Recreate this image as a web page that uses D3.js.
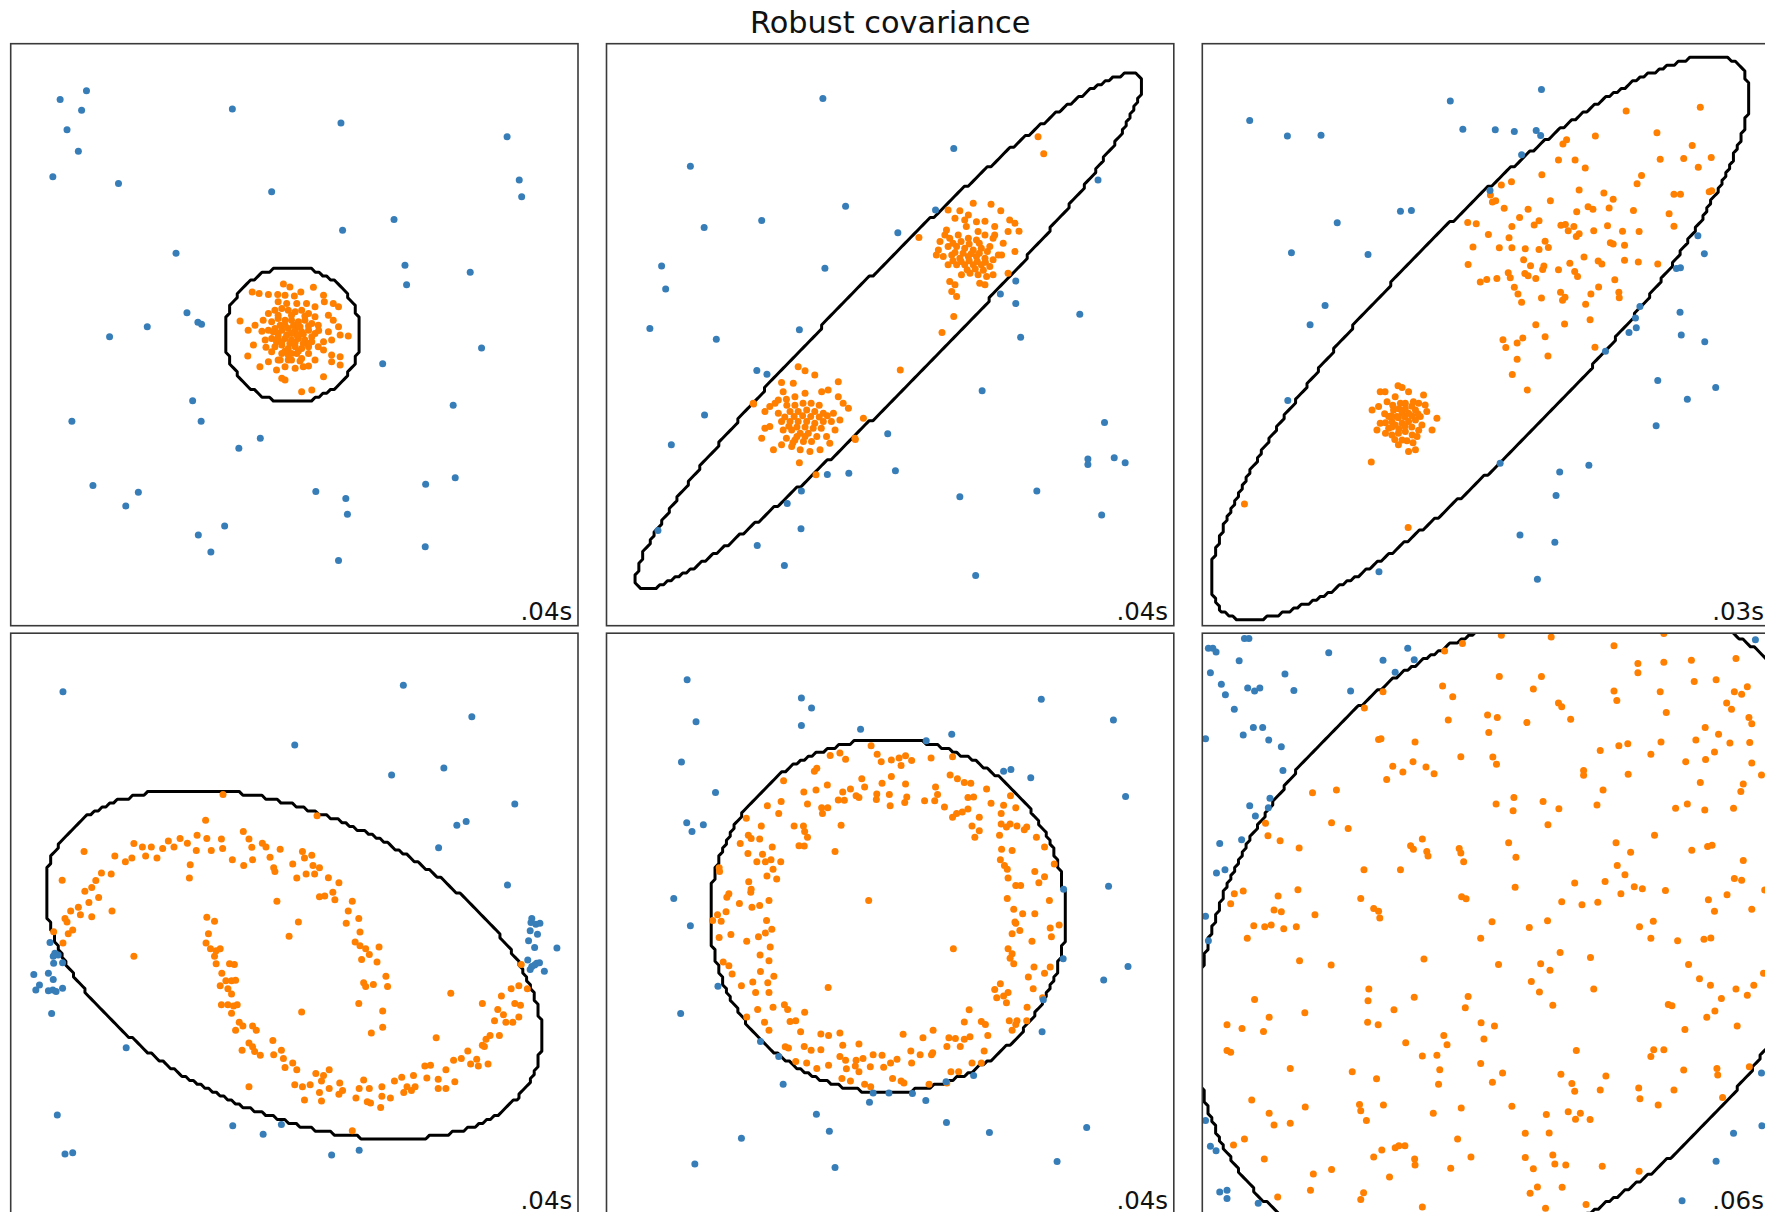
<!DOCTYPE html>
<html>
<head>
<meta charset="utf-8">
<script src="https://cdn.jsdelivr.net/npm/d3@7"></script>
<style>
  html, body { margin: 0; padding: 0; background: #fff; }
  svg { display: block; }
  text { font-family: "DejaVu Sans", sans-serif; fill: #111; }
</style>
</head>
<body>
<script>
// ---- chart text ----
const chartTitle = "Robust covariance";
const fitTimes = [".04s", ".04s", ".03s", ".04s", ".04s", ".06s"];

// ---- fitted boundary per dataset: centre, semi-axes, rotation (deg) ----
const boundaryCentre = [[-0.05, 0.0], [-0.03, 0.09], [-0.145, -0.075], [-0.025, -0.965], [-0.06, 0.21], [0.75, -0.15]];
const boundaryAxes = [[1.68, 1.63], [8.7, 1.25], [9.15, 2.49], [6.49, 3.62], [4.39, 4.25], [9.0, 6.6]];
const boundaryAngle = [0, 44.8, 45.7, -23.4, 0, 45];

// ---- dataset 1: single blob ----
const blobInliers = [
[-0.27,1.22],[-0.11,1.15],[0.47,1.14],[-1.04,1.03],[-0.87,0.99],[-0.64,0.97],[-0.41,0.97],[-0.23,0.95],[0.00,0.93],[0.16,1.03],
[0.72,0.95],[0.74,0.79],[0.96,0.75],[1.09,0.67],[-0.40,0.79],[-0.19,0.75],[0.06,0.75],[0.30,0.75],[0.51,0.67],[-1.34,0.33],
[-1.14,0.11],[-0.97,0.23],[-0.77,0.35],[0.84,0.47],[0.96,0.35],[1.09,0.19],[1.13,-0.01],[1.33,-0.03],[0.84,0.07],[0.72,-0.17],
[0.92,-0.13],[-1.15,-0.51],[-1.01,-0.25],[-0.85,-0.77],[-0.64,-0.65],[-0.44,-0.85],[-0.31,-1.05],[-0.23,-1.09],[0.02,-0.81],[0.22,-0.77],
[0.35,-0.75],[0.51,-0.61],[0.72,-0.37],[0.92,-0.49],[1.13,-0.53],[0.92,-0.65],[1.13,-0.73],[0.72,-1.01],[0.18,-1.37],[0.43,-1.33],
[-0.72,-0.13],[-0.56,-0.41],[-0.40,-0.61],[-0.15,-0.61],[0.18,-0.57],[0.35,-0.45],
[-0.64,0.51],[-0.48,0.59],[-0.31,0.63],[-0.15,0.59],[0.02,0.55],[0.18,0.59],[0.35,0.51],[0.51,0.43],[-0.56,0.31],[-0.40,0.39],
[-0.23,0.35],[-0.07,0.35],[0.10,0.31],[0.26,0.35],[0.43,0.27],[0.59,0.23],[-0.64,0.11],[-0.48,0.15],[-0.31,0.11],[-0.15,0.15],
[0.02,0.11],[0.18,0.07],[0.35,0.11],[0.51,0.03],[-0.56,-0.09],[-0.40,-0.05],[-0.23,-0.09],[-0.07,-0.13],[0.10,-0.09],[0.26,-0.13],
[0.43,-0.17],[-0.48,-0.29],[-0.31,-0.25],[-0.15,-0.33],[0.02,-0.29],[0.18,-0.33],[0.35,-0.29],[-0.31,-0.45],[-0.15,-0.49],[0.06,-0.45],
[-0.23,-0.77],[-0.07,-0.61],[-0.52,0.07],[-0.35,0.23],[-0.02,0.23],[0.14,0.19],[-0.19,-0.01],[0.06,-0.01],[0.22,-0.21],[-0.11,-0.21],
[-0.44,-0.17],
[-0.40,0.47],[-0.07,0.47],[0.26,0.45],[-0.23,0.23],[0.10,0.21],[0.35,0.21],[-0.40,0.03],[-0.07,0.03],[0.22,0.01],[0.43,-0.05],
[-0.31,-0.17],[0.02,-0.19],[0.35,-0.21],[-0.23,-0.39],[0.10,-0.39],[-0.07,-0.45],[0.14,-0.63],[-0.35,-0.61],[0.59,-0.29],[0.60,0.10],
[-0.80,0.08],[-0.70,-0.30]
];
const blobOutliers = [
[-5.78,5.66],[-5.13,5.87],[-5.25,5.40],[-5.61,4.93],[-5.33,4.41],[-5.96,3.80],[-4.34,3.64],[-1.53,5.43],[1.15,5.09],[-0.56,3.44],
[5.25,4.76],[5.55,3.72],[5.61,3.32],[2.46,2.77],[1.19,2.51],[-2.92,1.96],[2.73,1.67],[2.77,1.20],[4.34,1.50],[-2.65,0.53],
[-2.38,0.30],[-2.29,0.25],[-3.63,0.19],[-4.56,-0.05],[4.62,-0.32],[2.18,-0.70],[-2.51,-1.59],[-5.49,-2.08],[-2.30,-2.08],[-0.84,-2.49],
[-1.37,-2.73],[3.92,-1.70],[-4.97,-3.63],[-3.85,-3.79],[-4.16,-4.12],[0.53,-3.77],[1.27,-3.94],[1.31,-4.32],[3.24,-3.60],[3.97,-3.44],
[-1.72,-4.60],[-2.37,-4.82],[-2.06,-5.23],[1.09,-5.43],[3.23,-5.10]
];

// ---- dataset 2: two equal blobs ----
const twoBlobInliers = [
[0.71,2.34],[1.43,3.00],[1.72,2.98],[2.05,3.16],[2.49,3.14],[2.73,2.98],[2.95,2.76],[3.08,2.68],[3.18,2.49],[2.91,2.48],
[2.79,2.20],[3.08,2.00],[1.60,2.80],[1.93,2.88],[2.13,2.72],[2.34,2.73],[2.58,2.60],[2.17,2.48],[1.88,2.60],[1.39,2.52],
[1.68,2.40],[1.47,2.32],[1.23,2.24],[1.93,2.32],[2.13,2.28],[2.34,2.40],[2.58,2.40],[1.19,2.04],[1.43,2.12],[1.64,2.12],
[1.84,2.08],[2.05,2.04],[2.25,2.08],[2.46,2.12],[2.67,1.92],[1.31,1.88],[1.52,1.92],[1.72,1.84],[1.93,1.88],[2.13,1.88],
[2.34,1.84],[2.54,1.80],[2.75,1.92],[1.43,1.68],[1.64,1.68],[1.84,1.68],[2.05,1.68],[2.25,1.68],[2.46,1.64],[1.76,1.44],
[1.97,1.48],[2.17,1.44],[2.38,1.40],[2.54,1.44],[1.47,1.28],[1.60,1.20],[1.52,1.04],[1.64,0.92],[2.21,1.24],[2.34,1.20],
[2.91,1.48],[2.54,2.32],[1.14,1.92],[1.35,2.40],[1.84,2.76],
[1.55,2.20],[1.75,2.24],[1.95,2.18],[2.20,2.20],[2.40,2.00],[1.60,1.98],[1.80,1.96],[2.00,1.95],[2.20,1.96],[1.55,1.78],
[1.75,1.76],[1.95,1.78],[2.15,1.76],[2.35,1.74],[1.90,1.56],[2.10,1.58],[2.30,1.55],
[3.65,4.76],[3.79,4.35],[1.57,0.44],[1.28,0.05],[0.25,-0.85],[-0.86,-2.52],[-1.83,-3.37],[-3.37,-1.67],
[-2.27,-0.77],[-2.10,-0.87],[-1.86,-0.97],[-2.68,-1.15],[-2.39,-1.17],[-1.28,-1.13],[-3.38,-1.65],[-3.09,-1.85],[-2.97,-1.73],[-2.84,-1.65],
[-2.76,-1.57],[-2.64,-1.37],[-2.56,-1.55],[-2.35,-1.49],[-2.10,-1.41],[-1.69,-1.37],[-1.53,-1.33],[-1.28,-1.49],[-1.16,-1.65],[-1.03,-1.77],
[-1.24,-2.05],[-1.40,-1.89],[-1.65,-1.89],[-1.86,-1.85],[-2.06,-1.81],[-2.27,-1.85],[-2.47,-1.85],[-2.76,-1.89],[-3.09,-2.25],[-2.97,-2.21],
[-2.68,-2.09],[-2.47,-2.09],[-2.27,-2.09],[-2.06,-2.09],[-1.86,-2.13],[-1.65,-2.09],[-1.45,-2.09],[-1.36,-2.29],[-1.57,-2.45],[-1.81,-2.45],
[-2.02,-2.37],[-2.22,-2.37],[-2.43,-2.29],[-2.64,-2.29],[-2.56,-2.49],[-2.35,-2.53],[-2.14,-2.57],[-1.94,-2.57],[-3.17,-2.49],[-2.88,-2.77],
[-2.68,-2.65],[-2.43,-2.69],[-2.22,-2.77],[-1.98,-2.81],[-1.73,-2.77],[-1.49,-2.61],[-2.24,-3.08],[-0.66,-2.01],[-0.87,-2.49],
[-2.55,-1.70],[-2.35,-1.70],[-2.15,-1.65],[-1.95,-1.65],[-1.75,-1.70],[-2.60,-1.98],[-2.37,-1.97],[-2.16,-1.95],[-1.96,-1.97],[-1.75,-1.98],
[-1.55,-1.95],[-2.50,-2.20],[-2.30,-2.22],[-2.10,-2.22],[-1.90,-2.25],[-1.70,-2.25],[-2.30,-2.45],[-2.10,-2.45],[-2.40,-2.60]
];
const twoBlobOutliers = [
[-1.66,5.68],[1.57,4.48],[-4.93,4.05],[5.13,3.72],[-1.10,3.09],[-3.17,2.75],[-4.59,2.58],[0.19,2.45],[1.12,3.00],[-5.64,1.65],
[-1.61,1.60],[-5.54,1.10],[3.10,1.29],[2.72,0.98],[3.10,0.75],[4.68,0.49],[3.22,-0.06],[-5.93,0.15],[-4.29,-0.11],[-2.24,0.12],
[-3.29,-0.86],[-3.04,-0.95],[2.27,-1.35],[-4.58,-1.93],[5.29,-2.11],[-5.40,-2.65],[-0.06,-2.38],[4.88,-2.99],[4.88,-3.12],[5.53,-2.96],
[5.80,-3.08],[-1.55,-3.36],[-1.02,-3.33],[0.13,-3.27],[-2.19,-3.76],[-2.54,-4.06],[1.72,-3.90],[3.62,-3.76],[5.22,-4.34],[-2.20,-4.67],
[-3.28,-5.07],[-2.61,-5.55],[2.11,-5.79],[-5.73,-4.71]
];

// ---- dataset 3: wide blob + tight blob ----
const unevenInliers = [
[3.46,5.38],[5.29,5.47],[2.70,4.78],[4.22,4.86],[1.99,4.69],[1.90,4.59],[5.09,4.55],[1.79,4.20],[2.20,4.20],[4.30,4.22],
[4.88,4.24],[5.56,4.26],[5.24,4.03],[2.45,4.01],[1.38,3.85],[3.84,3.83],[0.63,3.68],[0.38,3.60],[3.73,3.63],[2.30,3.48],
[2.91,3.41],[3.14,3.26],[4.64,3.38],[4.80,3.38],[5.57,3.46],[0.11,3.36],[0.24,3.22],[0.16,3.19],[0.45,3.04],[1.04,3.02],
[1.59,3.22],[2.24,2.96],[2.52,3.08],[2.64,3.02],[3.04,3.05],[3.64,2.99],[4.52,2.91],[-0.45,2.70],[-0.24,2.67],[0.83,2.82],
[0.64,2.60],[1.19,2.64],[1.31,2.74],[1.85,2.63],[1.96,2.65],[2.17,2.60],[2.03,2.50],[2.30,2.43],[2.23,2.36],[2.66,2.50],
[3.00,2.62],[3.37,2.49],[3.78,2.48],[4.64,2.61],[0.06,2.41],[0.57,2.33],[-0.32,2.11],[0.33,2.09],[0.64,2.09],[0.97,2.07],
[1.31,2.05],[1.46,2.25],[1.54,2.10],[3.07,2.21],[3.14,2.18],[3.42,2.15],[-0.44,1.69],[0.93,1.80],[1.10,1.66],[1.43,1.65],
[1.40,1.57],[2.07,1.72],[2.42,1.87],[2.77,1.77],[2.86,1.70],[3.42,1.79],[3.76,1.75],[4.24,1.70],[-0.14,1.27],[0.02,1.33],
[0.27,1.35],[0.55,1.49],[0.60,1.37],[0.96,1.47],[1.04,1.42],[1.23,1.35],[1.79,1.56],[2.19,1.52],[2.26,1.40],[3.18,1.32],
[0.70,1.14],[0.79,0.98],[0.88,0.78],[1.37,0.88],[1.84,1.02],[1.95,0.90],[1.89,0.83],[2.59,0.98],[2.78,1.15],[3.28,1.02],
[3.29,0.89],[2.46,0.73],[1.23,0.24],[1.94,0.26],[2.57,0.36],[0.42,-0.12],[0.91,-0.08],[0.77,-0.20],[0.49,-0.31],[1.46,-0.05],
[1.53,-0.51],[0.77,-0.59],[0.65,-0.96],[1.02,-1.33],[2.69,-0.30],[5.51,3.44],[-5.96,-4.07],[-2.83,-3.06],[-1.92,-4.64],
[-2.61,-1.37],[-2.49,-1.37],[-2.17,-1.23],[-2.07,-1.27],[-1.91,-1.37],[-1.54,-1.45],[-2.81,-1.81],[-2.65,-1.73],[-2.44,-1.61],[-2.24,-1.49],
[-2.11,-1.65],[-1.99,-1.65],[-1.79,-1.61],[-1.66,-1.65],[-1.50,-1.69],[-1.46,-1.85],[-1.21,-2.01],[-1.33,-2.29],[-2.61,-2.13],[-2.69,-2.29],
[-2.48,-2.37],[-2.40,-2.25],[-2.32,-2.09],[-2.20,-1.97],[-2.07,-1.89],[-1.91,-1.89],[-1.74,-1.81],[-1.62,-1.97],[-2.28,-1.81],[-2.40,-1.97],
[-2.24,-2.17],[-2.07,-2.13],[-1.91,-2.09],[-1.74,-2.05],[-1.58,-2.17],[-2.32,-2.41],[-2.16,-2.37],[-1.99,-2.33],[-1.82,-2.41],[-1.70,-2.45],
[-2.16,-2.65],[-1.91,-2.81],[-1.74,-2.77],[-2.07,-2.53],
[-2.30,-1.70],[-2.15,-1.78],[-1.99,-1.78],[-1.83,-1.72],[-2.50,-1.90],[-2.33,-1.95],[-2.16,-2.00],[-2.00,-1.98],[-1.83,-1.95],[-1.68,-1.90],
[-2.48,-2.12],[-2.32,-2.22],[-2.15,-2.27],[-2.00,-2.20],[-1.83,-2.22],[-1.66,-2.30],[-2.25,-2.52],[-1.95,-2.55],[-1.80,-2.60]
];
const unevenOutliers = [
[-5.83,5.15],[-4.90,4.78],[-4.07,4.80],[-0.88,5.62],[1.37,5.90],[-0.57,4.94],[0.23,4.93],[0.70,4.89],[1.24,4.91],[1.35,4.79],
[0.88,4.33],[0.10,3.47],[-2.11,2.97],[-1.84,2.99],[-3.67,2.69],[-4.80,1.97],[-2.91,1.93],[-3.97,0.70],[-4.34,0.24],[5.23,2.38],
[5.39,1.95],[4.70,1.59],[4.80,1.61],[3.80,0.68],[3.69,0.40],[4.79,0.54],[3.71,0.17],[3.53,0.05],[4.82,-0.01],[5.40,-0.17],
[2.95,-0.40],[4.24,-1.10],[5.67,-1.27],[4.97,-1.55],[4.20,-2.19],[-4.89,-1.58],[0.35,-3.09],[1.82,-3.30],[2.54,-3.14],[1.73,-3.87],
[0.84,-4.82],[1.70,-4.99],[-2.64,-5.70],[1.27,-5.88]
];

// ---- dataset 4: two moons ----
const moonInliers = [
[-1.76,3.12],[-2.19,2.50],[0.56,2.61],[-5.19,1.75],[-5.73,1.06],[-3.96,1.94],[-3.75,1.86],[-3.53,1.86],[-3.39,1.59],[-3.11,2.00],
[-2.82,2.06],[-2.64,1.95],[-2.40,2.14],[-2.16,2.06],[-1.80,2.05],[-1.77,1.82],[-2.05,1.77],[-2.42,1.77],[-2.57,1.43],[-2.59,1.11],
[-4.43,1.64],[-4.17,1.50],[-4.01,1.59],[-3.67,1.64],[-3.25,1.82],[-2.97,1.86],[-1.53,1.55],[-1.26,2.23],[-1.12,2.05],[-1.05,1.85],
[-0.79,1.95],[-0.70,1.86],[-0.60,1.61],[-0.51,1.36],[-0.48,1.27],[-1.25,1.41],[-1.03,1.55],[-0.35,1.80],[-0.04,1.45],[0.20,1.75],
[0.25,1.59],[0.43,1.66],[0.06,1.11],[0.29,1.21],[0.46,1.41],[0.62,1.36],[0.50,1.21],[0.84,1.12],[1.10,1.00],[0.95,0.77],
[0.75,0.68],[0.62,0.66],[1.00,0.59],[1.43,0.55],[1.33,0.32],[1.28,0.02],[1.59,0.14],[1.62,-0.19],[1.50,-0.43],[1.62,-0.52],
[1.76,-0.59],[1.85,-0.73],[1.66,-0.85],[2.09,-0.55],[2.04,-0.91],[2.26,-1.25],[1.71,-1.41],[1.76,-1.50],[1.95,-1.45],[2.30,-1.50],
[2.18,-2.09],[2.18,-2.48],[1.90,-2.62],[1.59,-1.91],[-0.43,0.55],[0.10,0.05],[-0.13,-0.29],[-4.52,1.21],[-4.76,1.23],[-4.90,1.05],
[-5.00,0.88],[-5.17,0.79],[-5.33,0.41],[-5.52,0.32],[-5.61,0.05],[-5.66,0.14],[-5.58,-0.23],[-5.47,-0.14],[-5.71,-0.45],[-5.28,0.23],
[-5.00,0.18],[-4.83,0.64],[-4.50,0.32],[-5.94,-0.18],[-3.96,-0.77],[-5.07,0.52],
[-2.16,0.17],[-1.97,0.07],[-2.12,-0.23],[-2.18,-0.45],[-2.07,-0.59],[-1.93,-0.64],[-1.83,-0.59],[-1.97,-0.77],[-1.93,-0.95],[-1.60,-0.95],
[-1.48,-0.97],[-1.79,-1.18],[-1.69,-1.36],[-1.55,-1.36],[-1.45,-1.35],[-1.83,-1.48],[-1.64,-1.55],[-1.55,-1.68],[-1.80,-1.94],[-1.64,-1.94],
[-1.50,-1.97],[-1.41,-1.94],[-1.55,-2.14],[-1.36,-2.36],[-1.27,-2.45],[-1.45,-2.55],[-1.03,-2.45],[-0.94,-2.55],[-1.12,-2.86],[-1.29,-3.03],
[-1.03,-2.95],[-0.98,-3.06],[-0.84,-3.15],[-0.53,-2.80],[-0.32,-3.03],[-0.51,-3.14],[-0.27,-3.23],[-0.23,-3.45],[-0.04,-3.34],[0.06,-3.50],
[0.01,-3.86],[0.20,-3.91],[0.25,-4.23],[0.53,-3.59],[0.72,-3.64],[0.67,-3.77],[0.86,-3.50],[0.39,-3.86],[0.62,-4.05],[0.86,-3.95],
[0.67,-4.25],[1.12,-3.82],[1.10,-4.09],[1.19,-4.00],[1.52,-4.18],[1.71,-3.75],[1.60,-3.95],[1.85,-3.95],[1.88,-4.30],[1.80,-4.27],
[2.16,-3.91],[2.16,-4.14],[2.13,-4.41],[2.37,-4.18],[2.47,-3.77],[2.65,-3.68],[2.70,-4.05],[2.78,-3.91],[2.89,-4.00],[2.94,-3.64],
[2.98,-3.91],[3.22,-3.41],[3.36,-3.39],[3.27,-3.70],[3.55,-3.95],[3.55,-3.73],[3.74,-3.50],[3.74,-3.95],[3.96,-3.79],[3.93,-3.27],
[4.12,-3.23],[4.28,-3.05],[4.35,-3.36],[4.54,-3.41],[4.50,-3.25],[4.64,-2.91],[4.78,-3.36],[4.73,-2.77],[4.83,-2.68],[4.69,-2.94],
[5.06,-2.68],[4.94,-2.32],[5.02,-2.05],[5.16,-2.18],[5.22,-2.36],[5.39,-2.36],[5.54,-2.23],[5.44,-1.91],[5.58,-1.95],[4.64,-1.91],
[5.11,-1.73],[5.35,-1.55],[5.54,-1.48],[5.75,-1.55],[5.60,-0.97],[3.86,-1.66],[3.50,-2.73],[-1.12,-3.91],[1.43,-4.97],[0.18,-2.11]
];
const moonOutliers = [
[-5.71,5.59],[2.69,5.75],[4.38,4.99],[0.01,4.31],[3.69,3.76],[2.40,3.59],[5.44,2.89],[4.01,2.38],[4.24,2.47],[3.56,1.84],
[5.26,0.94],[6.48,-0.57],[-4.15,-2.97],[-5.85,-4.59],[-5.66,-5.53],[-5.47,-5.50],[-1.52,-4.85],[-0.77,-5.05],[-0.32,-4.82],[0.92,-5.55],
[1.60,-5.44],[-5.99,-2.15],
[5.86,0.14],[5.84,0.04],[5.96,0.00],[6.06,0.02],[5.82,-0.16],[6.00,-0.24],[5.78,-0.40],[5.93,-0.56],[5.76,-0.86],[5.98,-0.94],
[6.05,-0.93],[5.86,-1.02],[5.82,-1.09],[6.17,-1.13],[5.93,-0.98],
[-6.03,-0.44],[-5.91,-0.70],[-5.83,-0.74],[-5.95,-0.77],[-5.94,-0.94],[-5.72,-0.93],[-6.43,-1.21],[-6.07,-1.18],[-5.95,-1.33],[-6.29,-1.46],
[-6.38,-1.58],[-6.07,-1.60],[-5.96,-1.58],[-5.88,-1.62],[-5.72,-1.54]
];

// ---- dataset 5: ring ----
const ringInliers = [
[-0.47,4.29],[-0.32,4.09],[-0.22,3.91],[0.03,3.95],[0.22,4.00],[0.38,4.05],[0.53,3.94],[0.27,3.82],[1.01,4.00],[1.54,4.03],
[-1.48,4.06],[-1.24,4.12],[-1.10,3.97],[-1.81,3.75],[-1.87,3.68],[-0.70,3.50],[-0.20,3.39],[0.03,3.55],[0.38,3.37],[-2.63,3.45],
[-2.13,3.18],[-1.83,3.23],[-1.55,3.35],[-1.17,3.18],[-0.98,3.25],[-0.84,3.09],[-0.63,3.30],[-0.33,3.13],[-0.02,3.12],[0.41,3.06],
[1.12,3.30],[1.17,3.12],[0.85,2.97],[1.10,2.97],[1.48,3.59],[1.66,3.50],[1.83,3.41],[1.99,3.39],[2.38,3.25],[1.92,3.05],
[2.06,3.06],[2.49,2.91],[2.80,2.86],[3.10,2.80],[2.97,3.09],[-3.03,2.85],[-2.69,2.95],[-2.75,2.66],[-2.04,2.89],[-1.69,2.80],
[-1.54,2.80],[-1.28,2.99],[-1.13,2.98],[-0.77,3.05],[-0.34,3.00],[0.00,2.85],[0.36,2.93],[1.34,2.82],[1.64,2.66],[1.54,2.57],
[1.78,2.70],[1.92,2.77],[2.20,2.57],[2.74,2.66],[2.74,2.41],[2.87,2.34],[2.96,2.41],[3.13,2.36],[3.37,2.34],[3.61,2.09],
[3.31,2.27],[-3.55,2.55],[-3.18,2.36],[-2.37,2.36],[-2.14,2.36],[-2.11,2.23],[-1.67,2.66],[-1.21,2.38],[2.02,2.36],[2.20,2.25],
[2.09,2.09],[2.70,2.14],[2.75,1.80],[3.01,1.77],[3.81,1.86],[-3.50,2.14],[-3.43,2.06],[-3.22,2.05],[-3.70,1.94],[-2.91,1.86],
[-3.51,1.70],[-3.15,1.68],[-2.25,1.89],[-2.12,1.88],[-2.04,2.09],[-1.36,1.75],[-2.94,1.55],[-2.70,1.50],[-3.08,1.50],[-3.29,1.50],
[-4.22,1.36],[-4.21,1.27],[-2.89,1.32],[-2.80,1.09],[-3.04,1.16],[-3.49,1.02],[-3.43,0.84],[-3.44,0.77],[-3.98,0.73],[-4.03,0.65],
[2.72,1.55],[2.82,1.41],[2.89,1.32],[2.91,1.11],[3.10,0.93],[3.22,0.93],[3.57,1.27],[3.67,1.00],[3.81,1.14],[4.05,1.45],
[-3.72,0.50],[-3.41,0.41],[-3.22,0.45],[-2.99,0.57],[-0.53,0.57],[-4.26,0.23],[-4.05,0.30],[-4.38,0.09],[-4.17,0.07],[-3.05,0.09],
[2.89,0.62],[3.05,0.36],[3.27,0.25],[3.57,0.25],[3.93,0.57],[3.10,0.02],[3.01,-0.23],[3.20,-0.15],[3.08,0.05],[4.17,-0.02],
[-3.93,-0.25],[-4.22,-0.32],[-3.54,-0.41],[-3.25,-0.30],[-3.08,-0.21],[-2.92,-0.12],[-3.21,-0.74],[-2.99,-0.88],[-2.96,-0.55],[2.91,-0.59],
[3.01,-0.71],[2.96,-0.82],[3.05,-0.95],[3.50,-0.41],[3.95,-0.09],[3.98,-0.30],[3.55,-1.03],[3.95,-1.03],[1.56,-0.59],[-4.12,-0.91],
[-3.98,-1.00],[-3.90,-1.20],[-3.20,-1.14],[-3.67,-1.48],[-3.39,-1.39],[-3.02,-1.41],[-3.32,-1.64],[-2.99,-1.64],[-2.87,-1.25],[2.58,-1.57],
[2.72,-1.43],[2.80,-1.73],[2.91,-1.64],[2.87,-1.89],[2.63,-1.77],[3.41,-1.27],[3.81,-1.18],[3.53,-1.55],[3.38,-2.00],[3.76,-1.77],
[-1.53,-1.52],[-3.27,-2.05],[-2.89,-2.00],[-2.61,-1.94],[-2.53,-2.05],[-2.11,-2.12],[-3.54,-2.23],[-3.10,-2.36],[-2.99,-2.55],[-2.47,-2.34],
[-2.33,-2.32],[1.95,-2.06],[1.83,-2.35],[2.25,-2.34],[2.35,-2.41],[2.94,-2.32],[3.10,-2.41],[3.01,-2.55],[3.13,-2.32],[3.37,-2.32],
[2.41,-2.68],[-2.21,-2.59],[-1.71,-2.64],[-1.24,-2.62],[-1.52,-2.68],[0.32,-2.65],[0.81,-2.73],[1.06,-2.55],[1.45,-2.73],[1.61,-2.75],
[1.83,-2.77],[1.97,-2.71],[-2.59,-2.95],[-2.51,-2.98],[-2.12,-2.94],[-1.95,-3.03],[-1.71,-3.02],[-1.17,-2.91],[-0.77,-2.88],[-1.24,-3.18],
[-1.10,-3.27],[-0.84,-3.27],[-0.67,-3.23],[-0.42,-3.14],[-0.20,-3.15],[0.17,-3.25],[0.51,-3.05],[0.74,-3.14],[1.02,-3.14],[1.40,-2.94],
[1.73,-2.94],[2.32,-3.05],[-2.33,-3.30],[-2.06,-3.34],[-1.81,-3.47],[-1.52,-3.39],[-1.08,-3.48],[-0.86,-3.41],[-0.77,-3.55],[-0.49,-3.43],
[-0.16,-3.44],[0.01,-3.34],[0.53,-3.34],[1.05,-3.09],[2.02,-3.34],[2.25,-3.34],[1.50,-3.55],[1.69,-3.55],[-1.19,-3.71],[-0.98,-3.77],
[-0.63,-3.85],[-0.48,-3.91],[0.06,-3.71],[0.27,-3.77],[0.34,-3.82],[0.96,-3.85],[1.40,-3.82]
];
const ringOutliers = [
[-5.01,5.88],[-2.19,5.44],[-1.94,5.20],[-4.79,4.87],[-2.19,4.78],[-0.73,4.69],[1.52,4.57],[3.73,5.41],[5.51,4.91],[-5.15,3.90],
[2.80,3.68],[2.98,3.72],[3.47,3.52],[5.81,3.07],[-4.31,3.17],[-5.02,2.44],[-4.89,2.23],[-4.61,2.39],[-5.34,0.62],[5.39,0.91],
[4.28,0.84],[-4.93,-0.04],[4.27,-0.83],[5.87,-1.02],[5.27,-1.34],[-4.25,-1.49],[-5.17,-2.15],[3.78,-1.82],[3.75,-2.59],[-3.20,-2.82],
[-2.75,-3.18],[-2.64,-3.85],[2.06,-3.64],[1.38,-3.79],[-0.42,-4.06],[-0.03,-4.06],[0.55,-4.07],[0.88,-4.24],[-0.51,-4.28],[-1.82,-4.57],
[-1.50,-4.98],[1.39,-4.77],[2.45,-5.01],[4.85,-4.89],[-3.67,-5.15],[-4.82,-5.77],[-1.36,-5.85],[4.12,-5.71],[0.89,4.41]
];

// ---- dataset 6: uniform square ----
const uniformInliers = [
[-0.58,6.75],[0.38,6.95],[1.61,6.91],[3.16,6.70],[4.39,6.99],[-1.02,6.57],[-2.54,5.59],[-3.00,5.20],[-1.07,5.73],[-0.82,5.47],
[-0.93,4.91],[0.33,5.96],[1.17,5.66],[1.37,5.96],[1.79,5.32],[1.87,5.23],[2.09,4.93],[1.01,4.85],[0.04,5.03],[0.28,4.97],
[0.07,4.61],[3.75,6.27],[3.75,6.05],[4.39,6.30],[5.07,6.35],[6.17,6.39],[3.16,5.61],[3.23,5.38],[4.30,5.59],[4.45,5.09],
[5.14,5.84],[5.68,5.88],[6.13,5.59],[6.31,5.53],[6.45,5.71],[5.94,5.32],[6.06,5.17],[6.49,4.97],[6.56,4.82],[-2.65,4.44],
[-2.59,4.46],[-1.75,4.38],[-0.62,4.03],[0.17,4.02],[0.26,3.85],[-2.30,3.80],[-2.05,3.66],[-1.80,3.91],[-1.48,3.78],[-1.28,3.62],
[-2.45,3.48],[2.82,4.18],[3.28,4.29],[3.50,4.34],[4.07,4.09],[4.32,4.38],[5.41,4.73],[5.74,4.57],[5.18,4.43],[6.02,4.36],
[6.51,4.37],[5.64,4.14],[5.42,3.96],[4.93,3.91],[6.56,3.88],[6.80,3.59],[2.41,3.70],[2.41,3.58],[3.51,3.61],[2.89,3.23],
[2.74,2.87],[5.29,3.41],[6.35,3.37],[6.29,3.19],[4.68,2.79],[4.97,2.89],[5.40,2.75],[6.11,2.79],[-4.28,3.16],[-3.69,3.23],
[-3.81,2.44],[-3.40,2.30],[0.25,2.89],[0.69,3.05],[0.67,2.73],[1.41,2.95],[1.80,2.78],[1.53,2.39],[-5.38,2.13],[-5.08,2.01],
[-4.61,1.83],[-5.44,2.43],[-1.86,1.89],[-1.79,1.80],[-1.57,2.05],[-1.46,1.75],[-1.43,1.64],[-0.66,1.82],[-0.62,1.71],[-0.55,1.50],
[0.56,1.96],[0.74,1.61],[3.21,1.96],[3.57,1.73],[4.16,2.14],[5.08,1.78],[5.47,1.87],[5.58,1.90],[6.35,1.53],[-3.01,1.31],
[-2.11,1.31],[3.24,1.41],[3.43,1.19],[2.94,1.03],[2.19,0.99],[0.72,0.89],[3.66,0.90],[3.86,0.85],[4.43,0.81],[6.13,1.10],
[6.31,1.06],[5.95,0.71],[6.88,0.82],[-6.21,0.73],[-5.99,0.80],[-5.13,0.68],[-4.64,0.83],[-3.09,0.62],[-0.60,0.66],[-0.49,0.61],
[-2.77,0.38],[-2.65,0.31],[-2.62,0.15],[-5.23,0.34],[-5.05,0.30],[-4.22,0.23],[1.87,0.54],[2.37,0.47],[2.76,0.53],[3.33,0.73],
[5.49,0.59],[5.64,0.31],[6.56,0.36],[-6.30,0.49],[-5.73,-0.04],[-5.46,-0.06],[-5.30,-0.02],[-4.99,-0.11],[-4.68,-0.06],[-5.89,-0.34],
[0.15,0.06],[1.07,-0.08],[1.52,0.08],[-0.13,-0.34],[3.79,-0.06],[4.13,0.07],[4.07,-0.34],[4.73,-0.40],[5.38,-0.36],[5.55,-0.33],
[-4.60,-0.88],[-3.82,-0.98],[-1.53,-0.84],[0.31,-0.97],[1.83,-0.68],[2.58,-0.80],[1.35,-0.95],[1.58,-1.11],[5.00,-0.97],[5.27,-1.31],
[5.54,-1.47],[5.81,-1.79],[6.17,-1.56],[6.45,-1.71],[6.61,-1.47],[6.85,-1.18],[1.12,-1.38],[1.32,-1.63],[2.66,-1.56],[1.65,-1.95],
[-2.89,-1.56],[-2.91,-1.84],[-5.71,-1.81],[-5.35,-2.24],[-4.47,-2.13],[-5.49,-2.58],[-6.39,-2.42],[-6.02,-2.51],[-6.39,-3.04],[-6.30,-3.08],
[-2.92,-2.36],[-2.66,-2.42],[-2.27,-2.06],[-1.77,-1.76],[-0.51,-2.01],[-0.44,-1.74],[-0.12,-2.37],[0.21,-2.45],[4.50,-1.93],[4.59,-1.96],
[4.91,-2.53],[5.45,-2.24],[5.65,-2.09],[6.20,-2.45],[6.50,-3.43],[-1.98,-2.85],[-1.57,-3.17],[-1.21,-3.15],[-1.04,-2.68],[-0.96,-2.90],
[-0.05,-2.76],[-1.14,-3.50],[-1.17,-3.85],[-0.13,-3.35],[0.41,-3.58],[0.16,-3.80],[2.23,-3.04],[4.14,-3.02],[4.39,-3.02],[4.07,-3.18],
[4.88,-3.51],[5.70,-3.47],[5.72,-3.63],[1.85,-3.61],[2.12,-3.83],[2.19,-4.02],[2.96,-3.65],[2.82,-3.99],[3.77,-3.94],[3.80,-4.20],
[4.64,-3.99],[4.25,-4.35],[5.84,-4.17],[-4.83,-3.47],[-3.30,-3.55],[-2.70,-3.72],[-5.78,-4.23],[-5.35,-4.55],[-5.23,-4.83],[-4.83,-4.79],
[-4.46,-4.40],[-3.12,-4.34],[-3.09,-4.49],[-2.95,-4.72],[-2.53,-4.35],[-1.30,-4.55],[-0.61,-4.42],[0.64,-4.38],[1.49,-4.58],[2.03,-4.51],
[2.21,-4.69],[2.33,-4.55],[2.57,-4.70],[-5.96,-5.17],[-6.23,-5.31],[-5.47,-5.65],[-4.26,-6.01],[-3.81,-5.90],[-2.77,-5.60],[-2.57,-5.43],
[-2.24,-5.38],[-2.15,-5.33],[-2.00,-5.33],[-1.76,-5.65],[-1.75,-5.79],[-2.38,-6.08],[-0.87,-5.87],[-0.70,-5.17],[-0.37,-5.60],[0.97,-5.03],
[1.56,-5.02],[0.97,-5.61],[1.17,-5.88],[1.65,-5.55],[1.70,-5.77],[1.97,-5.79],[2.87,-5.82],[3.78,-5.94],[-4.33,-6.40],[-3.02,-6.46],
[-3.09,-6.62],[-5.14,-6.56],[-1.57,-6.80],[1.09,-6.47],[1.27,-6.32],[1.88,-6.33],[1.47,-6.83],[2.47,-6.74]
];
const uniformOutliers = [
[-6.85,6.64],[-6.74,6.64],[-6.66,6.55],[-6.80,6.05],[-6.53,5.77],[-6.43,5.52],[-6.21,5.17],[-6.09,6.34],[-5.96,6.87],[-5.85,6.87],
[-5.88,5.68],[-5.71,5.61],[-5.58,5.68],[-5.74,4.73],[-5.51,4.73],[-5.99,4.55],[-5.36,4.43],[-5.05,4.27],[-4.96,6.02],[-4.74,5.62],
[-3.88,6.53],[-3.34,5.61],[-2.54,6.35],[-2.24,6.06],[-1.93,6.64],[-1.77,6.36],[-6.92,4.46],[-5.01,3.70],[-5.33,3.03],[-5.83,2.85],
[-5.69,2.60],[-5.37,2.80],[-6.03,2.03],[-6.57,1.94],[-6.44,1.31],[-6.65,1.23],[-6.92,0.19],[-6.85,-0.40],[-6.92,-4.72],[-6.80,-5.34],
[-6.66,-5.45],[-6.57,-6.44],[-6.39,-6.40],[-6.39,-6.60],[-5.62,-6.71],[4.84,-6.65],[5.68,-5.70],[6.11,-5.03],[6.80,-3.58],[6.81,-4.85],
[6.65,6.84]
];

const panels = [
  {inl: blobInliers, out: blobOutliers},
  {inl: twoBlobInliers, out: twoBlobOutliers},
  {inl: unevenInliers, out: unevenOutliers},
  {inl: moonInliers, out: moonOutliers},
  {inl: ringInliers, out: ringOutliers},
  {inl: uniformInliers, out: uniformOutliers}
];

// ---- layout ----
const W = 1765, H = 1212;
const colLeft = [10.7, 606.5, 1202.3];
const rowTop = [43.7, 633.2];
const panelW = 567.3, panelH = 582;
const colors = {inlier: "#ff7f00", outlier: "#377eb8"};
const GRID = 150;

const svg = d3.select("body").append("svg").attr("width", W).attr("height", H);

svg.append("text")
  .attr("x", colLeft[1] + panelW / 2)
  .attr("y", 32.5)
  .attr("text-anchor", "middle")
  .attr("font-size", 30.4)
  .text(chartTitle);

const gridVals = d3.range(GRID).map(i => -7 + i * 14 / (GRID - 1));

panels.forEach((p, k) => {
  const left = colLeft[k % 3], top = rowTop[Math.floor(k / 3)];
  const x = d3.scaleLinear().domain([-7, 7]).range([left, left + panelW]);
  const y = d3.scaleLinear().domain([-7, 7]).range([top + panelH, top]);

  const clipId = "clip" + k;
  svg.append("clipPath").attr("id", clipId)
    .append("rect").attr("x", left).attr("y", top).attr("width", panelW).attr("height", panelH);

  const g = svg.append("g").attr("clip-path", `url(#${clipId})`);

  // decision boundary: predicted +1 inside the fitted ellipse, -1 outside, contoured at 0
  const [cx, cy] = boundaryCentre[k];
  const [a, b] = boundaryAxes[k];
  const th = boundaryAngle[k] * Math.PI / 180;
  const ct = Math.cos(th), st = Math.sin(th);
  const values = new Array(GRID * GRID);
  for (let j = 0; j < GRID; j++) {
    for (let i = 0; i < GRID; i++) {
      const dx = gridVals[i] - cx, dy = gridVals[j] - cy;
      const u = dx * ct + dy * st, v = -dx * st + dy * ct;
      values[j * GRID + i] = (u * u) / (a * a) + (v * v) / (b * b) <= 1 ? 1 : -1;
    }
  }
  const contours = d3.contours().size([GRID, GRID]).thresholds([0])(values);
  const step = 14 / (GRID - 1);
  const toPx = d3.geoTransform({
    point: function(px, py) {
      this.stream.point(x(-7 + (px - 0.5) * step), y(-7 + (py - 0.5) * step));
    }
  });
  g.append("path")
    .datum(contours[0])
    .attr("d", d3.geoPath(toPx))
    .attr("fill", "none")
    .attr("stroke", "#000")
    .attr("stroke-width", 3)
    .attr("stroke-linejoin", "round");

  // samples
  const pts = p.inl.map(d => ({d, c: colors.inlier})).concat(p.out.map(d => ({d, c: colors.outlier})));
  g.selectAll("circle").data(pts).join("circle")
    .attr("cx", o => x(o.d[0]))
    .attr("cy", o => y(o.d[1]))
    .attr("r", 3.5)
    .attr("fill", o => o.c);

  // frame
  svg.append("rect")
    .attr("x", left).attr("y", top).attr("width", panelW).attr("height", panelH)
    .attr("fill", "none").attr("stroke", "#3a3a3a").attr("stroke-width", 1.6);

  // fit time
  svg.append("text")
    .attr("x", left + panelW * 0.99)
    .attr("y", top + panelH * 0.99)
    .attr("text-anchor", "end")
    .attr("font-size", 24.5)
    .text(fitTimes[k]);
});
</script>
</body>
</html>
